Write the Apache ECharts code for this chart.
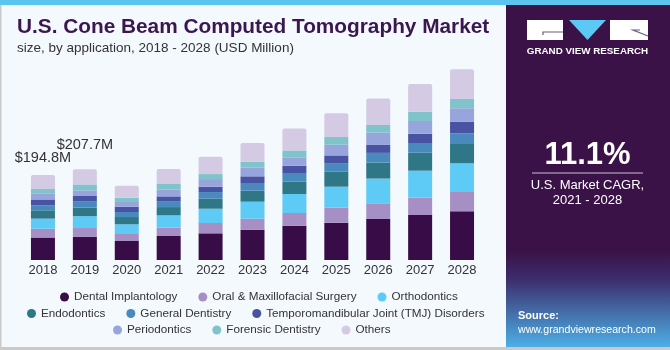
<!DOCTYPE html>
<html>
<head>
<meta charset="utf-8">
<script src="https://cdn.jsdelivr.net/npm/echarts@6.0.0/dist/echarts.min.js"></script>
<style>
    html, body { margin: 0; padding: 0; background: #f4f9fd; }
    #main { width: 670px; height: 350px; }
</style>
</head>
<body>
<div id="main"></div>
<script>
var years = ['2018', '2019', '2020', '2021', '2022', '2023', '2024', '2025', '2026', '2027', '2028'];
var dentalImplantology = [51.5, 52.8, 43.5, 55.0, 61.1, 69.4, 78.5, 85.4, 93.9, 103.1, 111.5];
var oralMaxillofacial = [20.1, 20.4, 16.0, 19.0, 23.6, 25.2, 29.1, 34.4, 36.0, 39.6, 44.2];
var orthodontics = [23.1, 27.2, 22.2, 28.2, 32.7, 38.9, 43.5, 48.1, 56.6, 61.8, 65.7];
var endodontics = [19.2, 19.7, 16.7, 19.0, 22.9, 25.2, 28.2, 35.0, 36.6, 41.2, 44.2];
var generalDentistry = [10.9, 13.6, 11.5, 13.7, 15.3, 17.6, 18.3, 19.0, 22.2, 20.6, 24.5];
var tmjDisorders = [13.9, 12.9, 12.1, 10.8, 12.1, 15.3, 18.3, 17.6, 19.0, 22.9, 26.8];
var periodontics = [13.9, 12.9, 10.8, 15.3, 17.6, 19.9, 18.3, 24.5, 27.5, 29.1, 30.5];
var forensicDentistry = [9.9, 13.6, 9.8, 13.1, 11.5, 13.7, 16.7, 17.6, 17.6, 21.3, 21.3];
var others = [32.3, 34.6, 27.5, 34.4, 39.6, 42.8, 50.4, 54.3, 60.2, 63.4, 68.0];
var totalLabels = ['$194.8M', '$207.7M', '', '', '', '', '', '', '', '', ''];

var segNames = ['Dental Implantology', 'Oral & Maxillofacial Surgery', 'Orthodontics',
    'Endodontics', 'General Dentistry', 'Temporomandibular Joint (TMJ) Disorders',
    'Periodontics', 'Forensic Dentistry', 'Others'];
var segData = [dentalImplantology, oralMaxillofacial, orthodontics, endodontics,
    generalDentistry, tmjDisorders, periodontics, forensicDentistry, others];
var segColors = ['#380d47', '#a68fc5', '#5ecaf6', '#2f7787', '#4a89be', '#4853a3', '#98a4dc', '#80c3cb', '#d4cae3'];

var FONT = 'Liberation Sans';

var seriesList = [];
for (var i = 0; i < segNames.length; i++) {
    var s = {
        name: segNames[i],
        type: 'bar',
        stack: 'total',
        barWidth: 24,
        data: segData[i],
        itemStyle: { color: segColors[i] },
        emphasis: { disabled: true }
    };
    if (i == segNames.length - 1) {
        //top segment carries the total labels
        s.itemStyle.borderRadius = [2, 2, 0, 0];
        s.data = segData[i].map(function (v, idx) {
            if (idx == 0) return { value: v, label: { distance: 9 } };
            if (idx == 1) return { value: v, label: { distance: 17 } };
            return v;
        });
        s.label = {
            show: true,
            position: 'top',
            fontFamily: FONT,
            fontSize: 14.5,
            color: '#333',
            formatter: function (p) {
                return totalLabels[p.dataIndex];
            }
        };
    }
    seriesList.push(s);
}

function legendRow(names, left, top) {
    return {
        data: names,
        left: left,
        top: top,
        icon: 'circle',
        itemWidth: 9,
        itemHeight: 9,
        itemGap: 21,
        selectedMode: false,
        textStyle: { fontFamily: FONT, fontSize: 11.7, color: '#333' }
    };
}

var option = {
    backgroundColor: '#f4f9fd',
    animation: false,
    grid: { left: 22, right: 187, top: 63.5, bottom: 90 },
    xAxis: {
        type: 'category',
        data: years,
        axisLine: { show: false },
        axisTick: { show: false },
        axisLabel: { margin: 4, fontFamily: FONT, fontSize: 13, color: '#333' }
    },
    yAxis: { type: 'value', min: 0, max: 450, show: false, splitLine: { show: false } },
    legend: [
        legendRow(segNames.slice(0, 3), 55, 286),
        legendRow(segNames.slice(3, 6), 22, 302.5),
        legendRow(segNames.slice(6, 9), 108, 319)
    ],
    series: seriesList,
    graphic: [
        { type: 'rect', shape: { x: 0, y: 0, width: 670, height: 5 }, style: { fill: '#5bc5ef' } },
        { type: 'rect', shape: { x: 0, y: 5, width: 1.5, height: 345 }, style: { fill: '#c9c9c9' } },
        { type: 'rect', shape: { x: 0, y: 347, width: 670, height: 3 }, style: { fill: '#c9c9c9' } },
        {
            type: 'text', left: 17, top: 17,
            style: { text: 'U.S. Cone Beam Computed Tomography Market', fontFamily: FONT, fontWeight: 'bold', fontSize: 20.8, fill: '#3b1650' }
        },
        {
            type: 'text', left: 17, top: 41,
            style: { text: 'size, by application, 2018 - 2028 (USD Million)', fontFamily: FONT, fontSize: 13.5, fill: '#333' }
        },
        //right panel
        {
            type: 'rect', shape: { x: 506, y: 5, width: 164, height: 342 },
            style: {
                fill: new echarts.graphic.LinearGradient(0, 0, 0, 1, [
                    { offset: 0, color: '#3a1248' },
                    { offset: 0.72, color: '#3a1248' },
                    { offset: 0.8, color: '#3c2c6c' },
                    { offset: 1, color: '#4cb0e6' }
                ])
            }
        },
        { type: 'rect', shape: { x: 527, y: 20, width: 36, height: 20 }, style: { fill: '#ffffff' } },
        { type: 'polygon', shape: { points: [[569, 20], [606, 20], [587.5, 40]] }, style: { fill: '#5bc8f5' } },
        { type: 'rect', shape: { x: 610, y: 20, width: 38, height: 20 }, style: { fill: '#ffffff' } },
        { type: 'polyline', shape: { points: [[543, 35], [543, 32], [563, 32]] }, style: { stroke: '#6c5a86', lineWidth: 1.2, fill: null } },
        { type: 'polyline', shape: { points: [[648, 36], [633, 30], [640, 30]] }, style: { stroke: '#6c5a86', lineWidth: 1.2, fill: null } },
        {
            type: 'text', x: 587.5, y: 51,
            style: { text: 'GRAND VIEW RESEARCH', fontFamily: FONT, fontWeight: 'bold', fontSize: 9.8, fill: '#ffffff', align: 'center', verticalAlign: 'middle' }
        },
        {
            type: 'text', x: 587.5, y: 155,
            style: { text: '11.1%', fontFamily: FONT, fontWeight: 'bold', fontSize: 31, fill: '#ffffff', align: 'center', verticalAlign: 'middle' }
        },
        { type: 'line', shape: { x1: 532, y1: 173, x2: 643, y2: 173 }, style: { stroke: '#c7bfd6', lineWidth: 1 } },
        {
            type: 'text', x: 587.5, y: 185,
            style: { text: 'U.S. Market CAGR,', fontFamily: FONT, fontSize: 13, fill: '#ffffff', align: 'center', verticalAlign: 'middle' }
        },
        {
            type: 'text', x: 587.5, y: 200,
            style: { text: '2021 - 2028', fontFamily: FONT, fontSize: 13, fill: '#ffffff', align: 'center', verticalAlign: 'middle' }
        },
        {
            type: 'text', x: 518, y: 316,
            style: { text: 'Source:', fontFamily: FONT, fontWeight: 'bold', fontSize: 11, fill: '#ffffff', verticalAlign: 'middle' }
        },
        {
            type: 'text', x: 518, y: 330,
            style: { text: 'www.grandviewresearch.com', fontFamily: FONT, fontSize: 10.6, fill: '#ffffff', verticalAlign: 'middle' }
        }
    ]
};

var myChart = echarts.init(document.getElementById('main'));
myChart.setOption(option);
</script>
</body>
</html>
